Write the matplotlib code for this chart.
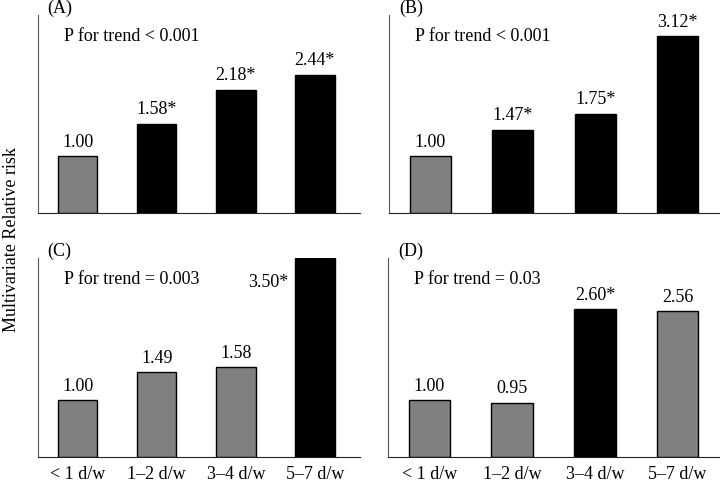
import matplotlib

matplotlib.use("Agg")

import matplotlib.pyplot as plt

plt.rcParams["font.family"] = ["Liberation Serif", "DejaVu Serif"]

categories = ["< 1 d/w", "1\u20132 d/w", "3\u20134 d/w", "5\u20137 d/w"]

rr_a = [1.00, 1.58, 2.18, 2.44]
sig_a = [False, True, True, True]
rr_b = [1.00, 1.47, 1.75, 3.12]
sig_b = [False, True, True, True]
rr_c = [1.00, 1.49, 1.58, 3.50]
sig_c = [False, False, False, True]
rr_d = [1.00, 0.95, 2.60, 2.56]
sig_d = [False, False, True, False]

panel_labels = ["(A)", "(B)", "(C)", "(D)"]
trend_texts = ["P for trend < 0.001", "P for trend < 0.001",
               "P for trend = 0.003", "P for trend = 0.03"]

W, H = 720, 482
FS = 13


def px_axes(fig, left, top, right, bottom):
    return fig.add_axes([left / W, 1 - bottom / H, (right - left) / W, (bottom - top) / H])


def draw_panel(ax, values, sig, label, trend, xmax, show_ticks):
    x = list(range(len(values)))
    colors = ["black" if s else "#808080" for s in sig]
    ax.bar(x, values, width=0.5, color=colors, edgecolor="black", linewidth=1.0)
    ymax = 3.5
    ax.set_ylim(0, ymax)
    ax.set_xlim(-0.5, xmax)
    for xi, v, s in zip(x, values, sig):
        text = f"{v:.2f}" + ("*" if s else "")
        if v >= ymax - 0.2:
            # no room above the bar: label sits to its left
            ax.text(xi - 0.33, 3.07, text, ha="right", va="center", fontsize=FS)
        else:
            ax.annotate(text, (xi, v), xytext=(0, 4), textcoords="offset points",
                        ha="center", va="bottom", fontsize=FS)
    ax.text(0.08, 0.89, trend, transform=ax.transAxes, ha="left", va="center", fontsize=FS)
    ax.text(0.03, 1.035, label, transform=ax.transAxes, ha="left", va="center", fontsize=FS)
    for side in ["top", "right"]:
        ax.spines[side].set_visible(False)
    ax.spines["left"].set_color("#555555")
    ax.spines["bottom"].set_color("#222222")
    ax.set_yticks([])
    ax.set_xticks(x)
    if show_ticks:
        ax.set_xticklabels(categories, fontsize=FS)
    else:
        ax.set_xticklabels([])
    ax.tick_params(axis="x", length=0, pad=6.5)


fig = plt.figure(figsize=(7.2, 4.82), dpi=100)
fig.patch.set_facecolor("white")

ax_a = px_axes(fig, 38, 15, 360, 213)
ax_b = px_axes(fig, 389, 15, 719, 213)
ax_c = px_axes(fig, 38, 258, 360, 457)
ax_d = px_axes(fig, 388, 258, 719, 457)

draw_panel(ax_a, rr_a, sig_a, panel_labels[0], trend_texts[0], 3.57, False)
draw_panel(ax_b, rr_b, sig_b, panel_labels[1], trend_texts[1], 3.5, False)
draw_panel(ax_c, rr_c, sig_c, panel_labels[2], trend_texts[2], 3.57, True)
draw_panel(ax_d, rr_d, sig_d, panel_labels[3], trend_texts[3], 3.5, True)

fig.text(12 / W, 1 - 240 / H, "Multivariate Relative risk", rotation=90,
         ha="center", va="center", fontsize=FS)

fig.savefig("out.png", dpi=100)
